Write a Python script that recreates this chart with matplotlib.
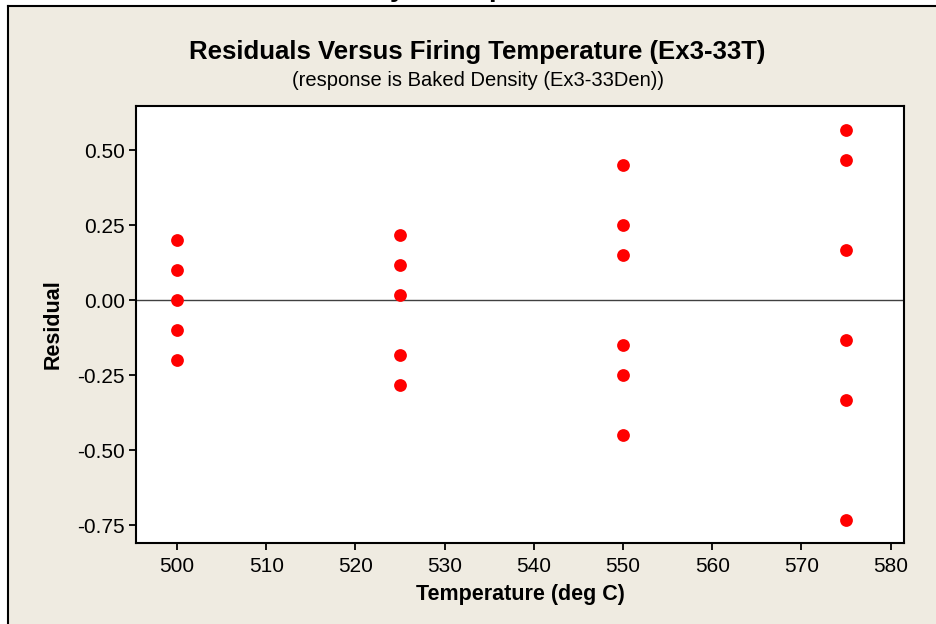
import matplotlib.pyplot as plt
from matplotlib.lines import Line2D
from matplotlib.patches import Rectangle

# residuals grouped by firing temperature
temperatures = [500, 525, 550, 575]
residuals_500 = [0.20, 0.10, 0.00, -0.10, -0.20]
residuals_525 = [0.2167, 0.1167, 0.0167, -0.1833, -0.2833]
residuals_550 = [0.45, 0.25, 0.15, -0.15, -0.25, -0.45]
residuals_575 = [0.5667, 0.4667, 0.1667, -0.1333, -0.3333, -0.7333]
groups = [residuals_500, residuals_525, residuals_550, residuals_575]

x_ticks = [500, 510, 520, 530, 540, 550, 560, 570, 580]
y_ticks = [0.50, 0.25, 0.00, -0.25, -0.50, -0.75]

BEIGE = "#EFEBE1"
W, H = 936, 624

plt.rcParams["font.family"] = ["Liberation Sans", "DejaVu Sans"]
plt.rcParams["axes.unicode_minus"] = False

fig = plt.figure(figsize=(W / 100, H / 100), dpi=100, facecolor="white")

# beige panel with a frame on the top and left
fig.patches.append(Rectangle((8 / W, 0), 1, 1 - 6 / H, transform=fig.transFigure,
                             facecolor=BEIGE, edgecolor="none", zorder=-10))
fig.lines.append(Line2D([8 / W, 1], [1 - 6 / H, 1 - 6 / H], transform=fig.transFigure,
                        color="black", lw=1.5, zorder=-5))
fig.lines.append(Line2D([8 / W, 8 / W], [0, 1 - 6 / H], transform=fig.transFigure,
                        color="black", lw=1.5, zorder=-5))

# remnants of a cut-off heading above the frame
fig.text(398 / W, 1 + 4 / H, "y", fontsize=20, fontweight="bold", ha="center", va="baseline")
fig.text(497 / W, 1 + 4 / H, "p", fontsize=20, fontweight="bold", ha="center", va="baseline")

ax = fig.add_axes([136 / W, 1 - 543 / H, (904 - 136) / W, (543 - 106) / H])
ax.set_facecolor("white")
ax.set_zorder(5)

for temp, res in zip(temperatures, groups):
    ax.plot([temp] * len(res), res, "o", color="#FF0000", markersize=9.2,
            markeredgewidth=0, zorder=3)

ax.axhline(0, color="#404040", lw=1.0, zorder=2)

ax.set_xlim(495.4, 581.5)
ax.set_ylim(-0.81, 0.647)
ax.set_xticks(x_ticks)
ax.set_yticks(y_ticks)
ax.set_yticklabels([f"{v:.2f}" for v in y_ticks])
ax.tick_params(direction="out", length=5, width=1.3, labelsize=15, colors="black")
ax.tick_params(axis="x", pad=5)
ax.tick_params(axis="y", pad=3)
for sp in ax.spines.values():
    sp.set_linewidth(1.5)

ax.set_xlabel("Temperature (deg C)", fontsize=15.5, fontweight="bold", labelpad=6)
ax.set_ylabel("Residual", fontsize=15.5, fontweight="bold", labelpad=10)

fig.text(477 / W, 1 - 52 / H, "Residuals Versus Firing Temperature (Ex3-33T)",
         fontsize=18.5, fontweight="bold", ha="center", va="center")
fig.text(478 / W, 1 - 80 / H, "(response is Baked Density (Ex3-33Den))",
         fontsize=14.5, ha="center", va="center")

fig.savefig("out.png", dpi=100, facecolor=fig.get_facecolor())
